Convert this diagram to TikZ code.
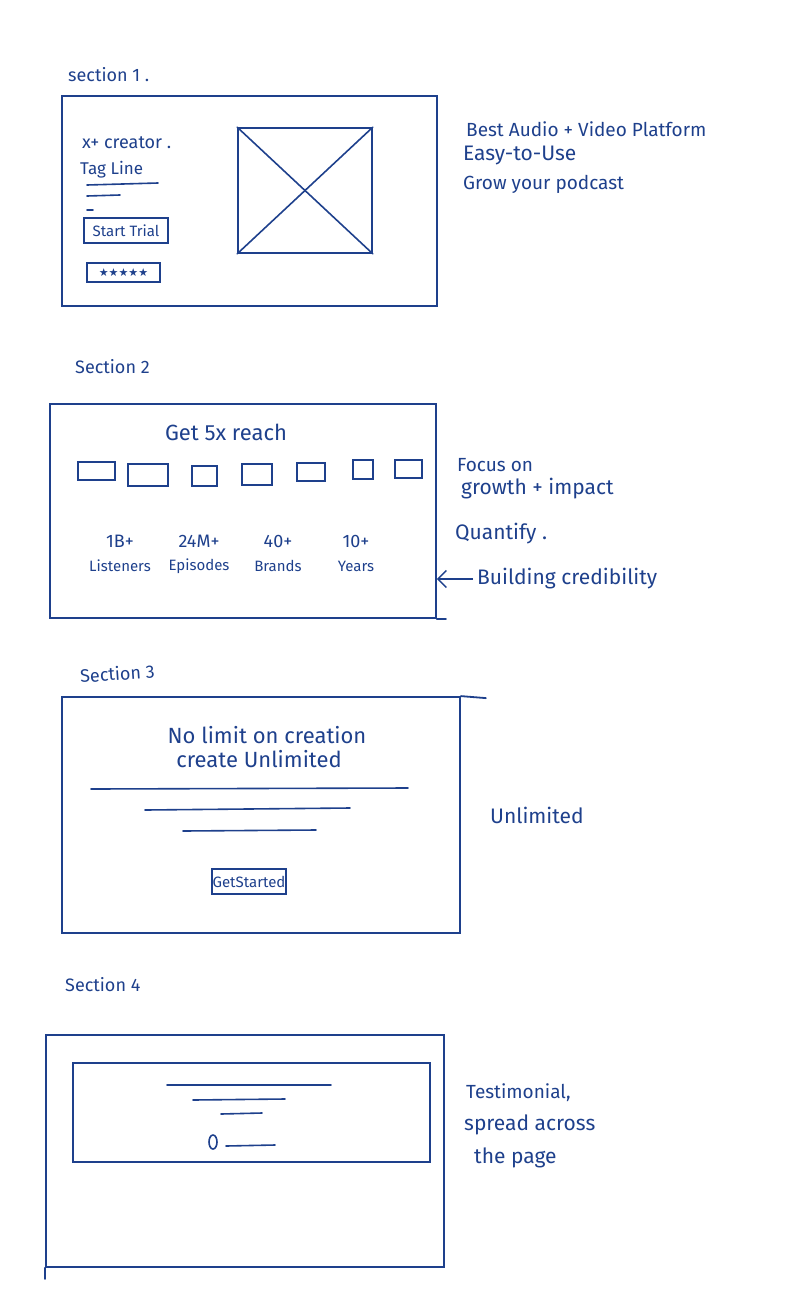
\documentclass[tikz,border=0pt]{standalone}
\usepackage{fontspec}
\setmainfont{Fira Sans}
\newfontfamily\starfont{DejaVu Sans}
\usetikzlibrary{positioning,arrows.meta,calc}
\definecolor{ink}{RGB}{30,64,140}
\tikzset{
frame/.style={
draw=ink,
line width=1.8pt,
inner sep=0pt
},
pen/.style={
draw=ink,
line width=1.6pt,
line cap=round
},
note/.style={
text=ink,
anchor=west,
inner sep=0pt,
font=\fontsize{19}{22}\selectfont
},
bignote/.style={
note,
font=\fontsize{21}{24}\selectfont
},
sectlabel/.style={
note,
font=\fontsize{18}{21}\selectfont
},
caption/.style={
text=ink,
inner sep=0pt,
font=\fontsize{22}{26}\selectfont
},
statnum/.style={
text=ink,
inner sep=0pt,
font=\fontsize{18}{21}\selectfont
},
statword/.style={
text=ink,
inner sep=0pt,
font=\fontsize{15}{18}\selectfont
},
btn/.style={
draw=ink,
line width=1.6pt,
inner sep=0pt,
text=ink,
font=\fontsize{15}{17}\selectfont
},
tile/.style={
draw=ink,
line width=1.5pt
},
arrow/.style={
-{Straight Barb[length=3mm]},
draw=ink,
line width=1.4pt
}
}

\begin{document}
\begin{tikzpicture}[x=1pt,y=-1pt]
\useasboundingbox (0,0) rectangle (808,1296);

% section 1
\node[sectlabel](t1) at (68,75){section 1 .};
\node[frame,minimum width=375pt,minimum height=210pt](s1) at (249.5,201){};
\node[note,font=\fontsize{18}{21}\selectfont](creator) at (82,143){x+ creator .};
\node[note,font=\fontsize{17}{20}\selectfont](tag) at (80,170){Tag Line};
\draw[pen] (87,185) -- (158,183);
\draw[pen] (87,196) -- (120,195);
\draw[pen] (87,210) -- (93,210);
\node[btn,minimum width=84pt,minimum height=25pt](trial) at (126,230.5){Start Trial};
\node[btn,minimum width=73pt,minimum height=19pt,font=\starfont\fontsize{11}{12}\selectfont](stars) at (123.5,272.5){★★★★★};
\node[frame,line width=1.6pt,minimum width=134pt,minimum height=125pt](img) at (305,190.5){};
\draw[pen] (img.north west) -- (img.south east);
\draw[pen] (img.north east) -- (img.south west);
\node[note](best) at (466,129){Best Audio + Video Platform};
\node[bignote](easy) at (463,155){Easy-to-Use};
\node[note](grow) at (463,184){Grow your podcast};

% section 2
\node[sectlabel](t2) at (75,367){Section 2};
\node[frame,minimum width=386pt,minimum height=214pt](s2) at (243,511){};
\draw[pen,line width=1.8pt] (s2.south east) -- ++(9,0);
\node[caption](reach) at (226,432){Get 5x reach};
\foreach \x/\y/\w/\h in {78/462/37/18,128/464/40/22,192/466/25/20,242/464/30/21,297/463/28/18,353/460/20/19,395/460/27/18}
\draw[tile] (\x,\y) rectangle ++(\w,\h);
\foreach \n/\x/\v/\t in {a/120/1B+/Listeners,b/199/24M+/Episodes,c/278/40+/Brands,d/356/10+/Years}{
\node[statnum](num\n) at (\x,541){\v};
\node[statword](word\n) at (\x,566){\t};
}
\node[note](focus) at (457,465){Focus on};
\node[bignote](growth) at (461,489){growth + impact};
\node[bignote](quant) at (455,534){Quantify .};
\node[bignote](cred) at (477,579){Building credibility};
\draw[arrow] ([xshift=-4pt]cred.west) -- (s2.east |- cred.west);

% section 3
\node[sectlabel,rotate=4](t3) at (80,676){Section 3};
\node[frame,minimum width=398pt,minimum height=236pt](s3) at (261,815){};
\draw[pen,line width=1.8pt] (s3.north east) -- ++(25,2);
\node[caption](nolimit) at (267,735){No limit on creation};
\node[caption](unl) at (259,759){create Unlimited};
\draw[pen] (91,789) -- (408,788);
\draw[pen] (145,810) -- (350,808);
\draw[pen] (183,831) -- (316,830);
\node[btn,minimum width=74pt,minimum height=25pt](start) at (249,881.5){GetStarted};
\node[bignote](unlim) at (490,815){Unlimited};

% section 4
\node[sectlabel](t4) at (65,985){Section 4};
\node[frame,minimum width=398pt,minimum height=232pt](s4) at (245,1151){};
\draw[pen,line width=1.8pt] (s4.south west) -- ++(0,11);
\node[frame,line width=1.6pt,minimum width=357pt,minimum height=99pt](quote) at (251.5,1112.5){};
\draw[pen] (167,1085) -- (331,1085);
\draw[pen] (193,1100) -- (285,1099);
\draw[pen] (221,1114) -- (262,1113);
\draw[pen] (213,1142) ellipse (4 and 7);
\draw[pen] (226,1146) -- (275,1145);
\node[note](testi) at (466,1093){Testimonial,};
\node[bignote](spread) at (464,1125){spread across};
\node[bignote](page) at (474,1158){the page};
\end{tikzpicture}
\end{document}
